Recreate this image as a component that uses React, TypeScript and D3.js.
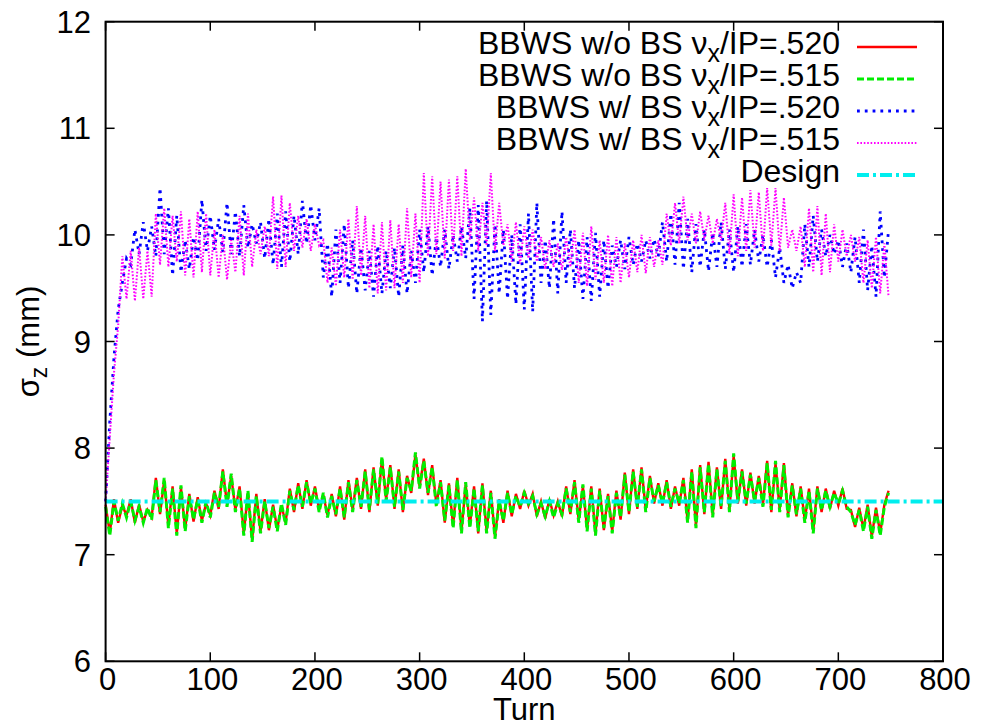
import React from 'react';
import * as d3 from 'd3';

const TURN_STEP = 4;
const X_TICKS = [0, 100, 200, 300, 400, 500, 600, 700, 800];
const Y_TICKS = [6, 7, 8, 9, 10, 11, 12];
const DESIGN_VALUE = 7.5;

const WO_BS_520 = [
  7.47, 7.20, 7.52, 7.30, 7.46, 7.37, 7.52, 7.30, 7.47, 7.31,
  7.42, 7.35, 7.72, 7.38, 7.70, 7.27, 7.64, 7.20, 7.63, 7.24,
  7.57, 7.31, 7.54, 7.32, 7.48, 7.37, 7.60, 7.43, 7.80, 7.47,
  7.74, 7.42, 7.64, 7.20, 7.58, 7.14, 7.57, 7.22, 7.52, 7.23,
  7.47, 7.24, 7.46, 7.30, 7.62, 7.40, 7.67, 7.43, 7.70, 7.46,
  7.64, 7.42, 7.56, 7.37, 7.57, 7.36, 7.64, 7.33, 7.70, 7.42,
  7.72, 7.43, 7.80, 7.40, 7.82, 7.46, 7.90, 7.52, 7.84, 7.43,
  7.80, 7.40, 7.74, 7.58, 7.94, 7.64, 7.90, 7.56, 7.84, 7.47,
  7.70, 7.30, 7.67, 7.27, 7.72, 7.22, 7.66, 7.27, 7.64, 7.20,
  7.67, 7.22, 7.60, 7.17, 7.52, 7.30, 7.60, 7.36, 7.57, 7.43,
  7.60, 7.46, 7.57, 7.36, 7.50, 7.34, 7.52, 7.37, 7.50, 7.36,
  7.64, 7.38, 7.70, 7.32, 7.64, 7.24, 7.64, 7.20, 7.62, 7.23,
  7.57, 7.22, 7.60, 7.33, 7.77, 7.38, 7.80, 7.43, 7.82, 7.42,
  7.74, 7.48, 7.67, 7.46, 7.70, 7.43, 7.64, 7.46, 7.72, 7.32,
  7.80, 7.27, 7.84, 7.38, 7.87, 7.37, 7.82, 7.43, 7.90, 7.42,
  7.93, 7.48, 7.80, 7.46, 7.77, 7.48, 7.74, 7.47, 7.88, 7.40,
  7.86, 7.42, 7.86, 7.37, 7.67, 7.36, 7.64, 7.32, 7.62, 7.22,
  7.64, 7.40, 7.62, 7.43, 7.60, 7.46, 7.62, 7.43, 7.42, 7.26,
  7.44, 7.24, 7.47, 7.17, 7.44, 7.20, 7.47, 7.60,
];

const WO_BS_515 = [
  7.45, 7.18, 7.50, 7.32, 7.48, 7.35, 7.50, 7.32, 7.45, 7.30,
  7.44, 7.33, 7.70, 7.40, 7.72, 7.25, 7.62, 7.18, 7.65, 7.22,
  7.55, 7.33, 7.52, 7.30, 7.50, 7.35, 7.58, 7.45, 7.78, 7.45,
  7.76, 7.40, 7.62, 7.18, 7.60, 7.12, 7.55, 7.20, 7.50, 7.25,
  7.45, 7.22, 7.48, 7.28, 7.60, 7.42, 7.65, 7.45, 7.68, 7.48,
  7.62, 7.40, 7.58, 7.35, 7.55, 7.38, 7.62, 7.35, 7.68, 7.40,
  7.70, 7.45, 7.78, 7.42, 7.80, 7.48, 7.92, 7.50, 7.82, 7.45,
  7.78, 7.42, 7.72, 7.60, 7.96, 7.62, 7.88, 7.58, 7.82, 7.45,
  7.68, 7.32, 7.65, 7.25, 7.70, 7.20, 7.68, 7.25, 7.62, 7.22,
  7.65, 7.20, 7.58, 7.15, 7.50, 7.32, 7.58, 7.38, 7.55, 7.45,
  7.58, 7.48, 7.55, 7.38, 7.48, 7.36, 7.50, 7.35, 7.48, 7.38,
  7.62, 7.40, 7.68, 7.30, 7.66, 7.22, 7.62, 7.18, 7.60, 7.25,
  7.55, 7.20, 7.58, 7.35, 7.75, 7.40, 7.78, 7.45, 7.80, 7.40,
  7.72, 7.50, 7.65, 7.48, 7.68, 7.45, 7.62, 7.48, 7.70, 7.30,
  7.78, 7.25, 7.82, 7.40, 7.85, 7.35, 7.80, 7.45, 7.88, 7.40,
  7.95, 7.50, 7.78, 7.48, 7.75, 7.50, 7.72, 7.45, 7.86, 7.42,
  7.88, 7.40, 7.84, 7.35, 7.65, 7.38, 7.62, 7.30, 7.60, 7.20,
  7.62, 7.42, 7.60, 7.45, 7.58, 7.48, 7.60, 7.45, 7.40, 7.28,
  7.42, 7.22, 7.45, 7.15, 7.42, 7.18, 7.45, 7.58,
];

const W_BS_520 = [
  7.50, 8.25, 8.85, 9.30, 9.55, 9.78, 9.72, 10.05, 9.82, 10.12,
  9.85, 10.08, 9.80, 10.44, 9.82, 10.25, 9.62, 10.18, 9.65, 9.95,
  9.68, 9.98, 9.76, 10.33, 9.85, 10.18, 9.86, 10.15, 9.84, 10.30,
  9.82, 10.22, 9.80, 10.28, 9.88, 10.10, 9.92, 10.12, 9.78, 10.15,
  9.72, 10.20, 9.70, 10.22, 9.75, 10.18, 9.82, 10.32, 9.92, 10.28,
  9.95, 10.25, 9.60, 9.92, 9.42, 10.05, 9.55, 10.10, 9.50, 9.95,
  9.45, 9.88, 9.48, 9.85, 9.42, 9.90, 9.45, 9.85, 9.50, 9.88,
  9.42, 9.90, 9.45, 9.85, 9.55, 10.05, 9.65, 10.08, 9.62, 9.98,
  9.70, 10.05, 9.68, 10.00, 9.75, 10.08, 9.78, 10.25, 9.40, 10.28,
  9.19, 10.32, 9.25, 10.10, 9.45, 10.05, 9.40, 10.00, 9.35, 10.10,
  9.30, 10.20, 9.28, 10.30, 9.55, 9.95, 9.50, 10.15, 9.45, 10.22,
  9.55, 10.05, 9.50, 9.95, 9.40, 9.98, 9.38, 10.02, 9.42, 9.95,
  9.50, 9.90, 9.70, 9.95, 9.68, 9.98, 9.72, 9.92, 9.75, 9.95,
  9.78, 9.96, 9.80, 10.12, 9.75, 10.20, 9.72, 10.30, 9.68, 10.15,
  9.65, 10.10, 9.70, 10.05, 9.66, 10.02, 9.70, 10.12, 9.68, 10.05,
  9.65, 10.08, 9.70, 10.10, 9.72, 10.05, 9.75, 10.00, 9.70, 9.95,
  9.60, 9.88, 9.55, 9.72, 9.50, 9.65, 9.55, 10.10, 9.70, 10.18,
  9.75, 10.05, 9.80, 10.00, 9.82, 9.95, 9.70, 9.92, 9.65, 9.98,
  9.55, 10.05, 9.48, 9.90, 9.42, 10.22, 9.60, 10.05,
];

const W_BS_515 = [
  7.50, 8.10, 8.70, 9.15, 9.80, 9.40, 9.85, 9.38, 9.88, 9.40,
  9.85, 9.42, 10.20, 9.72, 10.25, 9.70, 10.18, 9.75, 10.22, 9.62,
  10.15, 9.60, 10.22, 9.65, 10.20, 9.62, 10.05, 9.60, 10.00, 9.58,
  9.95, 9.65, 10.18, 9.62, 10.20, 9.70, 10.05, 9.82, 10.08, 9.80,
  10.36, 9.68, 10.37, 9.70, 10.30, 9.85, 10.18, 9.88, 10.15, 9.85,
  10.10, 9.90, 9.95, 9.55, 9.88, 9.52, 10.05, 9.60, 10.15, 9.58,
  10.27, 9.62, 10.18, 9.50, 10.10, 9.45, 10.12, 9.48, 10.14, 9.50,
  10.10, 9.55, 10.25, 9.60, 10.20, 9.55, 10.58, 9.80, 10.55, 9.82,
  10.50, 9.78, 10.52, 9.85, 10.55, 9.80, 10.62, 9.95, 10.35, 9.85,
  10.30, 9.90, 10.58, 9.85, 10.30, 9.90, 10.10, 9.75, 10.12, 9.73,
  10.08, 9.78, 10.05, 9.75, 9.98, 9.68, 9.95, 9.70, 9.92, 9.67,
  9.98, 9.70, 10.05, 9.55, 10.02, 9.52, 10.08, 9.58, 9.95, 9.55,
  10.00, 9.52, 9.98, 9.55, 9.92, 9.60, 9.95, 9.65, 10.00, 9.64,
  9.98, 9.70, 9.95, 9.72, 10.20, 9.90, 10.30, 9.92, 10.36, 9.95,
  10.20, 9.92, 10.22, 9.95, 10.18, 9.92, 10.15, 9.95, 10.30, 9.82,
  10.38, 9.80, 10.35, 9.85, 10.42, 9.88, 10.40, 9.85, 10.44, 9.90,
  10.44, 9.85, 10.35, 9.88, 10.05, 9.85, 10.08, 9.70, 10.25, 9.65,
  10.27, 9.62, 10.20, 9.65, 10.10, 9.75, 10.05, 9.80, 10.00, 9.75,
  9.98, 9.55, 9.95, 9.50, 9.98, 9.45, 9.92, 9.42,
];

const SERIES = [
  { key: 'a', pre: 'BBWS w/o BS \u03bd', post: '/IP=.520', data: WO_BS_520, color: '#ff0000', dash: null as string | null, width: 2.4 },
  { key: 'b', pre: 'BBWS w/o BS \u03bd', post: '/IP=.515', data: WO_BS_515, color: '#00ee00', dash: '7,3', width: 3 },
  { key: 'c', pre: 'BBWS w/ BS \u03bd', post: '/IP=.520', data: W_BS_520, color: '#0000ff', dash: '2.8,5', width: 2.8 },
  { key: 'd', pre: 'BBWS w/ BS \u03bd', post: '/IP=.515', data: W_BS_515, color: '#ff00ff', dash: '1.6,1.8', width: 2 },
];

const W = 995;
const H = 727;
const FONT = '"Liberation Sans", Arial, Helvetica, sans-serif';
const FS = 31;
const LEG_FS = 32;

export default function App() {
  const x = d3.scaleLinear().domain([0, 800]).range([105.6, 943]);
  const y = d3.scaleLinear().domain([6, 12]).range([661.3, 21.7]);
  const line = d3
    .line<number>()
    .x((_, i) => x(i * TURN_STEP))
    .y((d) => y(d));
  const [x0, x1] = x.range();
  const [yb, yt] = y.range();
  const tickLen = 9;
  const legendX = 840;
  const sampleX0 = 857;
  const sampleX1 = 917;
  const legendY = [47, 79, 111, 143, 175];

  return (
    <div style={{ position: 'absolute', left: 0, top: 0 }}>
      <svg width={W} height={H} style={{ display: 'block', background: '#fff' }} fontFamily={FONT}>
        <rect x={0} y={0} width={W} height={H} fill="#fff" />
        {X_TICKS.map((t) => (
          <g key={'xt' + t} stroke="#000" strokeWidth={1.5}>
            <line x1={x(t)} x2={x(t)} y1={yb} y2={yb - tickLen} />
            <line x1={x(t)} x2={x(t)} y1={yt} y2={yt + tickLen} />
          </g>
        ))}
        {Y_TICKS.map((t) => (
          <g key={'yt' + t} stroke="#000" strokeWidth={1.5}>
            <line x1={x0} x2={x0 + tickLen} y1={y(t)} y2={y(t)} />
            <line x1={x1} x2={x1 - tickLen} y1={y(t)} y2={y(t)} />
          </g>
        ))}
        {X_TICKS.map((t) => (
          <text key={'xl' + t} x={x(t) + 2} y={690} fontSize={FS} textAnchor="middle" fill="#000">
            {t}
          </text>
        ))}
        {Y_TICKS.map((t) => (
          <text key={'yl' + t} x={91} y={y(t) + 11} fontSize={FS} textAnchor="end" fill="#000">
            {t}
          </text>
        ))}
        <text x={(x0 + x1) / 2} y={720} fontSize={FS} textAnchor="middle" fill="#000">
          Turn
        </text>
        <text transform={`translate(39,${(yb + yt) / 2}) rotate(-90)`} fontSize={FS} textAnchor="middle" fill="#000">
          {'\u03c3'}
          <tspan dy={8} fontSize={23}>z</tspan>
          <tspan dy={-8}>{' (mm)'}</tspan>
        </text>
        {SERIES.map((s) => (
          <path
            key={s.key}
            d={line(s.data) || ''}
            fill="none"
            stroke={s.color}
            strokeWidth={s.width}
            strokeDasharray={s.dash || undefined}
            strokeLinejoin="miter"
          />
        ))}
        <line
          x1={x(0)}
          x2={x(800)}
          y1={y(DESIGN_VALUE)}
          y2={y(DESIGN_VALUE)}
          stroke="#00eeee"
          strokeWidth={4}
          strokeDasharray="12,4,3,4"
        />
        {SERIES.map((s, i) => (
          <g key={'lg' + s.key}>
            <text x={legendX} y={legendY[i] + 7} fontSize={LEG_FS} textAnchor="end" fill="#000">
              {s.pre}
              <tspan dy={8} fontSize={25}>x</tspan>
              <tspan dy={-8}>{s.post}</tspan>
            </text>
            <line
              x1={sampleX0}
              x2={sampleX1}
              y1={legendY[i]}
              y2={legendY[i]}
              stroke={s.color}
              strokeWidth={s.width}
              strokeDasharray={s.dash || undefined}
            />
          </g>
        ))}
        <text x={legendX} y={legendY[4] + 7} fontSize={LEG_FS} textAnchor="end" fill="#000">
          Design
        </text>
        <line
          x1={sampleX0}
          x2={sampleX1}
          y1={legendY[4]}
          y2={legendY[4]}
          stroke="#00eeee"
          strokeWidth={4}
          strokeDasharray="12,4,3,4"
        />
        <rect x={x0} y={yt} width={x1 - x0} height={yb - yt} fill="none" stroke="#000" strokeWidth={2} />
      </svg>
    </div>
  );
}
